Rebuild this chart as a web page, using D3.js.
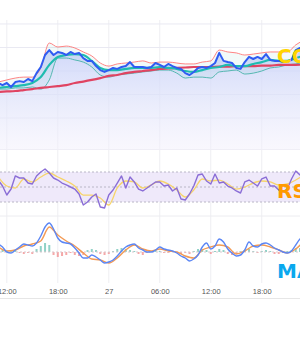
<!DOCTYPE html>
<html>
<head>
<meta charset="utf-8">
<script src="https://cdn.jsdelivr.net/npm/d3@7"></script>
<style>
  body { margin: 0; background: #fff; }
  svg { display: block; }
</style>
</head>
<body>
<div id="chart"></div>
<script>
// half-hourly samples, starting 26th 11:00
var price = [74.9,74.0,74.9,73.2,75.3,75.7,75.3,76.6,75.7,79.1, 81.7,86.8,88.9,86.8,88.1,87.7,86.8,88.1,87.2,87.7,
  85.5,84.3,84.3,82.1,80.4,79.6,80.4,81.3,80.9,81.7, 82.1,83.8,81.7,81.7,81.7,81.3,81.7,83.4,82.6,81.7,
  83.0,82.1,81.3,80.9,79.1,78.3,79.6,81.3,81.7,81.3, 82.1,83.4,87.7,84.3,83.8,83.4,81.3,80.9,83.8,86.0,
  85.1,86.0,85.1,87.2,84.7,84.3,84.3,83.8,83.8,84.7, 88.9,89.8,90.2];
var rsi = [59.3,51.3,39.3,47.3,64.7,62.0,62.0,55.3,54.0,64.7, 70.0,74.0,68.7,62.0,59.3,55.3,52.7,50.0,47.3,40.7,
  26.0,30.0,36.7,40.7,23.3,22.0,39.3,46.0,55.3,64.7, 48.7,63.3,56.7,47.3,44.7,48.7,52.7,56.7,56.7,51.3,
  52.7,44.7,48.7,34.0,32.7,40.7,51.3,66.0,67.3,58.0, 54.0,67.3,55.3,56.7,51.3,48.7,44.7,42.0,56.7,59.3,
  55.3,51.3,60.7,63.3,51.3,51.3,46.0,43.3,47.3,60.7, 71.3,66.0,62.0];
var macd = [0.8,0.5,0.0,-0.1,0.2,0.5,0.8,0.7,0.6,0.9, 1.6,2.5,2.9,2.3,1.4,1.0,0.9,0.8,0.4,-0.1,
  -0.6,-0.6,-0.3,-0.5,-0.8,-1.1,-1.0,-0.8,-0.4,0.1, 0.5,0.7,0.8,0.4,0.2,0.0,0.0,0.2,0.5,0.3,
  0.2,0.1,-0.1,-0.4,-0.6,-0.9,-0.7,-0.3,0.5,0.9, 0.3,0.6,1.3,1.0,0.3,-0.1,-0.4,-0.3,0.2,1.0,
  0.6,0.5,0.8,0.9,0.7,0.4,0.2,0.0,-0.1,0.1, 0.7,1.3,1.6];
var macdHist = [0.1,0.2,0.1,0.2,0.2,-0.1,-0.2,-0.1,-0.2,0.3, 0.6,0.9,0.7,-0.3,-0.5,-0.4,-0.3,-0.1,-0.3,-0.4,
  -0.3,0.2,0.3,0.2,-0.2,-0.3,-0.2,0.1,0.3,0.4, 0.3,0.2,0.1,-0.2,-0.3,-0.1,0.1,0.2,0.1,-0.1,
  -0.1,0.1,-0.1,-0.2,-0.1,-0.2,0.1,0.3,0.3,0.2, -0.2,0.1,0.3,0.2,-0.2,-0.3,-0.2,0.1,0.2,0.3,
  0.1,-0.1,0.1,0.2,0.1,-0.2,-0.2,-0.1,0.1,0.2, 0.4,0.4,0.3];

// hourly samples, starting 26th 11:00
var bbMid = [72.8,73.2,73.6,74.0,74.9,77.4,82.6,86.0,86.8,87.2, 86.8,84.3,81.3,80.4,80.4,80.9,81.3,81.3,81.3,81.7,
  81.3,80.9,80.0,79.6,80.4,81.3,81.7,82.6,82.1,82.1, 83.0,83.8,84.7,84.3,84.3,85.5,86.4];
var bbUpper = [75.3,76.2,77.0,77.4,77.4,81.3,91.9,90.2,90.6,89.8, 88.1,86.4,83.4,82.1,83.0,83.4,83.8,84.3,83.4,83.8,
  83.8,83.4,83.0,83.0,83.8,84.3,88.9,88.1,87.7,86.8, 87.2,87.7,88.1,88.1,88.1,91.1,93.2];
var bbLower = [72.3,72.3,72.8,72.8,73.2,72.3,76.2,85.5,85.5,84.7, 83.8,81.7,78.3,77.4,78.3,78.7,79.1,79.6,80.0,80.4,
  80.4,79.1,77.0,77.4,77.4,77.0,79.6,80.0,80.4,78.7, 79.1,80.0,81.3,81.7,82.6,83.0,83.8];
var longMA = [71.1,71.3,71.5,71.9,72.3,72.8,73.2,73.6,74.0,74.9, 75.5,76.2,77.0,77.9,78.3,79.1,79.6,80.0,80.4,80.9,
  81.1,81.3,81.5,81.7,81.7,81.7,81.9,81.9,82.1,82.1, 82.1,82.3,82.3,82.6,82.6,82.6,82.8];
var rsiSignal = [63.3,51.3,48.7,60.7,56.7,63.3,68.7,63.3,58.0,51.3, 39.3,39.3,35.3,26.0,48.7,58.0,56.7,48.7,52.7,58.0,
  54.0,46.0,36.7,46.0,60.7,58.0,59.3,54.0,47.3,50.0, 55.3,58.0,56.7,52.7,54.0,59.3,66.0];
var macdSignal = [0.5,0.1,0.2,0.6,0.8,1.1,2.5,1.7,1.1,0.6, -0.1,-0.7,-0.8,-1.1,-0.6,0.2,0.7,0.3,0.1,0.3,
  0.1,0.0,-0.4,-0.6,0.2,0.5,0.7,0.5,-0.2,0.1, 0.6,0.7,0.5,0.2,-0.1,0.3,1.1];

var priceGrid = [60, 70, 80, 90, 100];
var rsiLevels = [70, 50, 30];
var panelLabels = ["COIN", "RSI", "MACD"];

var width = 300, height = 350;
var start = new Date(2024, 4, 26, 11, 0);
var halfHours = price.map(function(d, i) { return d3.timeMinute.offset(start, 30 * i); });
var hours = bbMid.map(function(d, i) { return d3.timeHour.offset(start, i); });

var svg = d3.select("#chart").append("svg")
  .attr("width", width)
  .attr("height", height);

var x = d3.scaleTime()
  .domain([new Date(2024, 4, 26, 11, 12), new Date(2024, 4, 27, 22, 30)])
  .range([0, width]);

// three stacked panels
var yPrice = d3.scaleLinear().domain([46.4, 110.2]).range([150, 0]);
var yRsi = d3.scaleLinear().domain([0, 100]).range([224.5, 149.5]);
var yMacd = d3.scaleLinear().domain([-3, 3.6]).range([282, 216]);

var defs = svg.append("defs");
var grad = defs.append("linearGradient")
  .attr("id", "priceFill")
  .attr("gradientUnits", "userSpaceOnUse")
  .attr("x1", 0).attr("x2", 0).attr("y1", 40).attr("y2", 150);
grad.append("stop").attr("offset", 0).attr("stop-color", "#c3cdf8").attr("stop-opacity", 0.85);
grad.append("stop").attr("offset", 0.55).attr("stop-color", "#dfe3fa").attr("stop-opacity", 0.7);
grad.append("stop").attr("offset", 1).attr("stop-color", "#f3f0fc").attr("stop-opacity", 0.5);

// grid
var timeTicks = x.ticks(d3.timeHour.every(6));
svg.append("g").selectAll("line")
  .data(timeTicks).enter().append("line")
  .attr("x1", d => x(d)).attr("x2", d => x(d))
  .attr("y1", 20).attr("y2", 283)
  .attr("stroke", "#eeeef2");

svg.append("g").selectAll("line")
  .data(priceGrid).enter().append("line")
  .attr("x1", 0).attr("x2", width)
  .attr("y1", d => yPrice(d)).attr("y2", d => yPrice(d))
  .attr("stroke", "#e9e9f2");

// panel separators
svg.append("g").selectAll("line")
  .data([yRsi(100), yMacd(3.6)]).enter().append("line")
  .attr("x1", 0).attr("x2", width)
  .attr("y1", d => d).attr("y2", d => d)
  .attr("stroke", "#ececf0");

// ---- price panel
svg.append("path")
  .datum(price)
  .attr("fill", "url(#priceFill)")
  .attr("d", d3.area()
    .x((d, i) => x(halfHours[i]))
    .y0(yPrice.range()[0])
    .y1(d => yPrice(d)));

svg.append("path")
  .datum(bbUpper)
  .attr("fill", "#4db6ac")
  .attr("fill-opacity", 0.07)
  .attr("d", d3.area()
    .curve(d3.curveMonotoneX)
    .x((d, i) => x(hours[i]))
    .y0((d, i) => yPrice(bbLower[i]))
    .y1(d => yPrice(d)));

function hourLine(scale) {
  return d3.line().curve(d3.curveMonotoneX)
    .x((d, i) => x(hours[i]))
    .y(d => scale(d));
}
function halfLine(scale) {
  return d3.line()
    .x((d, i) => x(halfHours[i]))
    .y(d => scale(d));
}

svg.append("path").datum(bbUpper)
  .attr("fill", "none").attr("stroke", "#ff6f6f").attr("stroke-width", 1).attr("stroke-opacity", 0.85)
  .attr("d", hourLine(yPrice));
svg.append("path").datum(bbLower)
  .attr("fill", "none").attr("stroke", "#3fb0a4").attr("stroke-width", 1).attr("stroke-opacity", 0.85)
  .attr("d", hourLine(yPrice));
svg.append("path").datum(longMA)
  .attr("fill", "none").attr("stroke", "#e04462").attr("stroke-width", 2.2)
  .attr("d", hourLine(yPrice));
svg.append("path").datum(bbMid)
  .attr("fill", "none").attr("stroke", "#1fbcb0").attr("stroke-width", 2.2)
  .attr("d", hourLine(yPrice));
svg.append("path").datum(price)
  .attr("fill", "none").attr("stroke", "#2f5cf2").attr("stroke-width", 2)
  .attr("stroke-linejoin", "round")
  .attr("d", halfLine(yPrice));

// ---- RSI panel
svg.append("rect")
  .attr("x", 0).attr("width", width)
  .attr("y", yRsi(70)).attr("height", yRsi(30) - yRsi(70))
  .attr("fill", "#efe9fa");

svg.append("g").selectAll("line")
  .data(rsiLevels).enter().append("line")
  .attr("x1", 0).attr("x2", width)
  .attr("y1", d => yRsi(d)).attr("y2", d => yRsi(d))
  .attr("stroke", "#b9b6c6")
  .attr("stroke-dasharray", "2,2");

svg.append("path").datum(rsiSignal)
  .attr("fill", "none").attr("stroke", "#f7d46a").attr("stroke-width", 1.3)
  .attr("d", hourLine(yRsi));
svg.append("path").datum(rsi)
  .attr("fill", "none").attr("stroke", "#8a6dd6").attr("stroke-width", 1.4)
  .attr("stroke-linejoin", "round")
  .attr("d", halfLine(yRsi));

// ---- MACD panel
svg.append("g").selectAll("rect")
  .data(macdHist).enter().append("rect")
  .attr("x", (d, i) => x(halfHours[i]) - 1)
  .attr("width", 2)
  .attr("y", d => Math.min(yMacd(d), yMacd(0)))
  .attr("height", d => Math.abs(yMacd(d) - yMacd(0)))
  .attr("fill", d => d >= 0 ? "#6cc3b4" : "#f28b8b")
  .attr("fill-opacity", 0.75);

svg.append("line")
  .attr("x1", 0).attr("x2", width)
  .attr("y1", yMacd(0)).attr("y2", yMacd(0))
  .attr("stroke", "#d9c9cf").attr("stroke-dasharray", "2,2");

svg.append("path").datum(macdSignal)
  .attr("fill", "none").attr("stroke", "#f39a54").attr("stroke-width", 1.4)
  .attr("d", hourLine(yMacd));
svg.append("path").datum(macd)
  .attr("fill", "none").attr("stroke", "#5b86f5").attr("stroke-width", 1.4)
  .attr("d", d3.line().curve(d3.curveMonotoneX)
    .x((d, i) => x(halfHours[i]))
    .y(d => yMacd(d)));

// ---- time axis
var fmt = function(d) {
  return d.getHours() === 0 ? d3.timeFormat("%d")(d) : d3.timeFormat("%H:%M")(d);
};
var axis = svg.append("g")
  .attr("transform", "translate(0,286)")
  .call(d3.axisBottom(x).ticks(d3.timeHour.every(6)).tickFormat(fmt).tickSize(0));
axis.select(".domain").remove();
axis.selectAll("text")
  .attr("fill", "#555")
  .attr("font-family", "Liberation Sans, Arial, sans-serif")
  .attr("font-size", "7.5px");

svg.append("line")
  .attr("x1", 0).attr("x2", width)
  .attr("y1", 298.5).attr("y2", 298.5)
  .attr("stroke", "#e6e6e6");

// ---- panel names, clipped at right edge
var labelColors = ["#ffd400", "#ff9a00", "#0aa8ee"];
var labelY = [yPrice(83.4), yRsi(35), yMacd(-2.6)];
svg.append("g").selectAll("text")
  .data(panelLabels).enter().append("text")
  .attr("x", 277)
  .attr("y", (d, i) => labelY[i])
  .attr("fill", (d, i) => labelColors[i])
  .attr("font-family", "DejaVu Sans, sans-serif")
  .attr("font-weight", "bold")
  .attr("font-size", "20px")
  .text(d => d);
</script>
</body>
</html>
